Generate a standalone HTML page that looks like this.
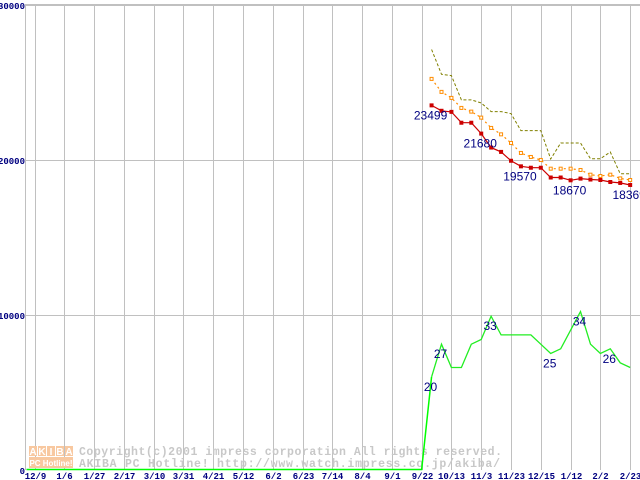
<!DOCTYPE html>
<html><head><meta charset="utf-8"><style>
html,body{margin:0;padding:0;background:#fff;}
svg{display:block;}
</style></head><body>
<svg id="chart" width="640" height="480" xmlns="http://www.w3.org/2000/svg"></svg>
<script>
const xTickLabels=["12/9","1/6","1/27","2/17","3/10","3/31","4/21","5/12","6/2","6/23","7/14","8/4","9/1","9/22","10/13","11/3","11/23","12/15","1/12","2/2","2/23"];
const yTicks=[0,10000,20000,30000];
const minPrice=[23499,23150,23080,22380,22380,21680,20780,20500,19930,19570,19480,19480,18850,18850,18670,18780,18720,18690,18560,18500,18369];
const avgPrice=[25206,24368,23981,23335,23097,22710,22045,21632,21077,20432,20174,19981,19419,19419,19419,19335,19032,18948,19032,18794,18690];
const maxPrice=[27097,25503,25419,23852,23852,23658,23097,23097,22968,21871,21871,21871,20045,21077,21077,21077,20065,20065,20497,19097,19097];
const shopCount=[20,27,22,22,27,28,33,29,29,29,29,27,25,26,30,34,27,25,26,23,22];
const minLabelIdx=[0,5,9,14,20];
const countLabelIdx=[0,1,6,12,15,18];

const NS="http://www.w3.org/2000/svg";
const svg=document.getElementById('chart');
const L=25.5,R=640,T=4.5,B=470;
const yP=v=>B-(B-T)*v/30000;
const yC=c=>B-4.66*c;
const gridX=i=>34.5+29.78*i;
const ptX=i=>gridX(13)+9.93*(i+1);
function mk(tag,attrs,parent){const e=document.createElementNS(NS,tag);for(const k in attrs)e.setAttribute(k,attrs[k]);(parent||svg).appendChild(e);return e;}

const frame=mk('path',{d:`M${L} ${B}V${T}H${R}`,fill:'none',stroke:'#c0c0c0','stroke-width':1});



xTickLabels.forEach((t,i)=>{
  const x=Math.round(gridX(i))+0.5;
  const g=mk('line',{x1:x,x2:x,y1:T,y2:B,stroke:'#c0c0c0','stroke-width':1});
  
  
  const tx=mk('text',{x:x,y:479,'text-anchor':'middle','font-family':'Liberation Mono, monospace','font-size':9,'font-weight':'bold',fill:'#000080'});
  tx.textContent=t;
  
  
});
yTicks.forEach(v=>{
  const y=Math.round(yP(v))+0.5;
  if(v>0){const g=mk('line',{x1:L,x2:R,y1:y,y2:y,stroke:'#c0c0c0','stroke-width':1});
  
  }
  const tx=mk('text',{x:25,y:y+3.5,'text-anchor':'end','font-family':'Liberation Mono, monospace','font-size':9,'font-weight':'bold',fill:'#000080'});
  tx.textContent=String(v);
  
  
});

const wm=mk('g',{});


const letters="AKIBA";
for(let i=0;i<5;i++){mk('rect',{x:29+i*9,y:446,width:8,height:10,fill:'#f8c8a0'},wm);
  const t=mk('text',{x:33+i*9,y:455,'text-anchor':'middle','font-family':'Liberation Sans, sans-serif','font-size':10,'font-weight':'bold',fill:'#fff'},wm);t.textContent=letters[i];}
mk('rect',{x:29,y:457,width:44,height:11,fill:'#f8c8a0'},wm);
const t2=mk('text',{x:51,y:466,'text-anchor':'middle','font-family':'Liberation Sans, sans-serif','font-size':8,'font-weight':'bold',fill:'#fff'},wm);t2.textContent="PC Hotline!";
const c1=mk('text',{x:79,y:455,'font-family':'Liberation Mono, monospace','font-size':11.5,'font-weight':'bold',fill:'#c8c8c8',textLength:423},wm);c1.textContent="Copyright(c)2001 impress corporation All rights reserved.";
const c2=mk('text',{x:79,y:467,'font-family':'Liberation Mono, monospace','font-size':11.5,'font-weight':'bold',fill:'#c8c8c8',textLength:421},wm);c2.textContent="AKIBA PC Hotline! http://www.watch.impress.co.jp/akiba/";

function line(arr,yf,attrs,name){
  const d=arr.map((v,i)=>(i?'L':'M')+ptX(i).toFixed(1)+' '+yf(v).toFixed(1)).join('');
  const p=mk('path',Object.assign({d:d,fill:'none'},attrs));
  
  
  return p;
}
const zero=mk('path',{d:`M${L+1} ${B-0.5}H${ptX(-1)}L${ptX(0)} ${yC(shopCount[0])}`,fill:'none',stroke:'#00ff00','stroke-width':1.5});


line(shopCount,yC,{stroke:'#22ee22','stroke-width':1.3},'shop-count-line');

line(maxPrice,yP,{stroke:'#808000','stroke-width':1,'stroke-dasharray':'3,2'},'max-price-line');
line(avgPrice,yP,{stroke:'#ff8c00','stroke-width':1.2,'stroke-dasharray':'2,3'},'avg-price-line');
avgPrice.forEach((v,i)=>{const r=mk('rect',{x:ptX(i)-1.5,y:yP(v)-1.5,width:3,height:3,fill:'#fff',stroke:'#ff8c00','stroke-width':1});
  
  });
line(minPrice,yP,{stroke:'#cc0000','stroke-width':1.2},'min-price-line');
minPrice.forEach((v,i)=>{const r=mk('rect',{x:ptX(i)-2,y:yP(v)-2,width:4,height:4,fill:'#cc0000'});
  
  });

minLabelIdx.forEach(i=>{const t=mk('text',{x:ptX(i)-1,y:yP(minPrice[i])+14,'text-anchor':'middle','font-family':'Liberation Sans, sans-serif','font-size':12,fill:'#000080'});
  t.textContent=String(minPrice[i]);
  
  });
countLabelIdx.forEach(i=>{const t=mk('text',{x:ptX(i)-1,y:yC(shopCount[i])+14,'text-anchor':'middle','font-family':'Liberation Sans, sans-serif','font-size':12,fill:'#000080'});
  t.textContent=String(shopCount[i]);
  
  });
</script>
</body></html>
